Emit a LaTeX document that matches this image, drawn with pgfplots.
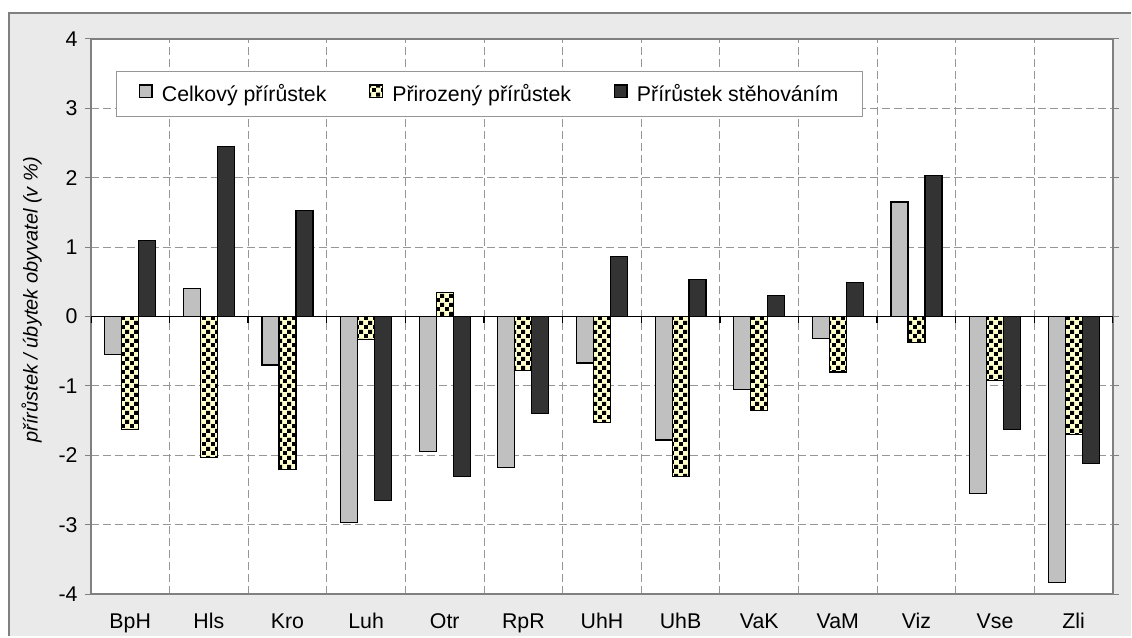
\documentclass[border=0pt]{standalone}
\usepackage{fontspec}
\setmainfont{Liberation Sans}
\usepackage{pgfplots}
\usepackage{pgfplotstable}
\pgfplotsset{compat=1.18}
\usetikzlibrary{patterns}

\definecolor{bgc}{RGB}{234,234,234}
\definecolor{frm}{RGB}{128,128,128}
\definecolor{gridc}{RGB}{150,150,150}
\definecolor{celk}{RGB}{192,192,192}
\definecolor{prir}{RGB}{255,255,204}
\definecolor{steh}{RGB}{51,51,51}

% black squares on the yellow bars
\pgfdeclarepatternformonly{sqdots}{\pgfqpoint{0pt}{0pt}}{\pgfqpoint{6.5pt}{6.5pt}}{\pgfqpoint{6.5pt}{6.5pt}}{%
  \pgfpathrectangle{\pgfqpoint{0pt}{0pt}}{\pgfqpoint{3pt}{3pt}}%
  \pgfpathrectangle{\pgfqpoint{3.25pt}{3.25pt}}{\pgfqpoint{3pt}{3pt}}%
  \pgfusepath{fill}}

\pgfplotstableread{
x  celk  prir  steh
0  -0.55 -1.63  1.10
1   0.40 -2.03  2.45
2  -0.70 -2.20  1.53
3  -2.97 -0.33 -2.65
4  -1.95  0.35 -2.30
5  -2.18 -0.78 -1.40
6  -0.67 -1.53  0.87
7  -1.78 -2.30  0.53
8  -1.05 -1.35  0.30
9  -0.32 -0.80  0.49
10  1.65 -0.38  2.03
11 -2.55 -0.92 -1.63
12 -3.83 -1.70 -2.12
}\zmeny

\begin{document}
\begin{tikzpicture}
% grey chart area with its frame
\fill[white] (-68.25pt,-31.7pt) rectangle (780.75pt,446pt);
\fill[bgc] (-61.5pt,-31.7pt) rectangle (780.75pt,436.5pt);
\draw[frm, line width=1.5pt] (-61.5pt,-31.7pt) -- (-61.5pt,436.5pt) -- (780.75pt,436.5pt);

\begin{axis}[
    at={(0pt,0pt)}, anchor=south west,
    scale only axis,
    width=767.25pt, height=416.8pt,
    axis background/.style={fill=white},
    axis line style={frm, line width=1pt},
    xmin=-0.5, xmax=12.5,
    ymin=-4, ymax=4,
    ybar=0pt, bar width=12.75pt,
    xtick={0,...,12},
    xticklabels={BpH,Hls,Kro,Luh,Otr,RpR,UhH,UhB,VaK,VaM,Viz,Vse,Zli},
    minor xtick={0.5,1.5,...,11.5},
    ytick={-4,...,4},
    xminorgrids, ymajorgrids,
    grid style={gridc, line width=0.75pt, dash pattern=on 6pt off 3pt},
    minor grid style={gridc, line width=0.75pt, dash pattern=on 6pt off 3pt},
    major x tick style={draw=none},
    minor x tick style={draw=none},
    tick align=outside,
    major tick length=4.5pt,
    ytick style={frm, line width=0.75pt},
    /pgf/number format/assume math mode=true,
    tick label style={font=\fontsize{16}{19}\selectfont},
    xticklabel style={yshift=-6.5pt},
    yticklabel style={xshift=-2pt},
    ylabel={\itshape přírůstek / úbytek obyvatel (v \%)},
    ylabel style={font=\fontsize{15}{18}\selectfont, at={(axis description cs:-0.058,0.53)}, anchor=center},
    legend columns=-1,
    legend image code/.code={\draw[#1, draw=black, line width=0.9pt] (0pt,-2.8pt) rectangle (9.5pt,6.7pt);},
    legend style={
        font=\fontsize{16}{19}\selectfont,
        at={(axis description cs:0.0241,0.943)}, anchor=north west,
        draw=gridc, line width=0.75pt, fill=white,
        inner xsep=17pt, inner ysep=9pt,
        nodes={inner sep=1pt},
        /tikz/every odd column/.append style={column sep=6pt},
        /tikz/every even column/.append style={column sep=31pt}
    },
]
\addplot[draw=black, line width=0.9pt, fill=celk] table[x=x, y=celk] {\zmeny};
\addplot[draw=black, line width=0.9pt, fill=prir, postaction={pattern=sqdots}] table[x=x, y=prir] {\zmeny};
\addplot[draw=black, line width=0.9pt, fill=steh] table[x=x, y=steh] {\zmeny};
\legend{Celkový přírůstek, Přirozený přírůstek, Přírůstek stěhováním}

\draw[black, line width=1.3pt] (axis cs:-0.5,0) -- (axis cs:12.5,0);
\pgfplotsinvokeforeach{-0.5,0.5,1.5,2.5,3.5,4.5,5.5,6.5,7.5,8.5,9.5,10.5,11.5,12.5}{
  \draw[black, line width=1pt] (axis cs:#1,0) -- ++(0pt,-4.5pt);
}
\end{axis}
\end{tikzpicture}
\end{document}
